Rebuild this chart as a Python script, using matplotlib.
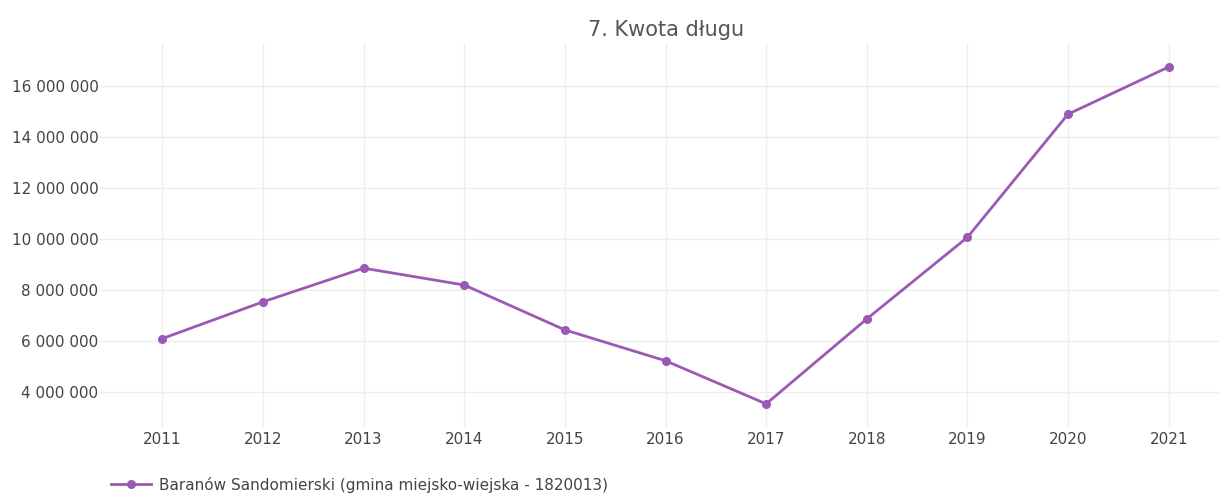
import matplotlib.pyplot as plt
from matplotlib.ticker import FuncFormatter

years = [2011, 2012, 2013, 2014, 2015, 2016, 2017, 2018, 2019, 2020, 2021]
debt = [6.08e6, 7.52e6, 8.84e6, 8.18e6, 6.42e6, 5.21e6, 3.52e6, 6.85e6, 10.05e6, 14.88e6, 16.73e6]
series_name = "Baranów Sandomierski (gmina miejsko-wiejska - 1820013)"
y_ticks = [4e6, 6e6, 8e6, 10e6, 12e6, 14e6, 16e6]

color = "#9b59b6"
text_color = "#444444"

fig = plt.figure(figsize=(12.19, 4.94), dpi=100)
ax = fig.add_axes([0.082, 0.136, 0.918, 0.777])

line, = ax.plot(years, debt, color=color, linewidth=2, marker="o", markersize=5.5,
                label=series_name)

ax.set_xlim(2010.38, 2021.5)
ax.set_ylim(2.62e6, 17.67e6)
ax.set_xticks(years)
ax.set_yticks(y_ticks)
ax.yaxis.set_major_formatter(FuncFormatter(lambda v, p: f"{int(v):,}".replace(",", " ")))

ax.grid(True, color="#eeeeee", linewidth=1)
ax.set_axisbelow(True)
for s in ax.spines.values():
    s.set_visible(False)
ax.tick_params(length=0, labelsize=11, colors=text_color)
ax.tick_params(axis="y", pad=1)
ax.tick_params(axis="x", pad=4)

fig.text(0.546, 0.94, "7. Kwota długu", ha="center", va="center", fontsize=15, color="#555555")

fig.legend(handles=[line], loc="lower left", bbox_to_anchor=(0.08, -0.025), frameon=False,
           fontsize=11, labelcolor=text_color, handlelength=2.6, handletextpad=0.5)

fig.savefig("out.png", dpi=100)
